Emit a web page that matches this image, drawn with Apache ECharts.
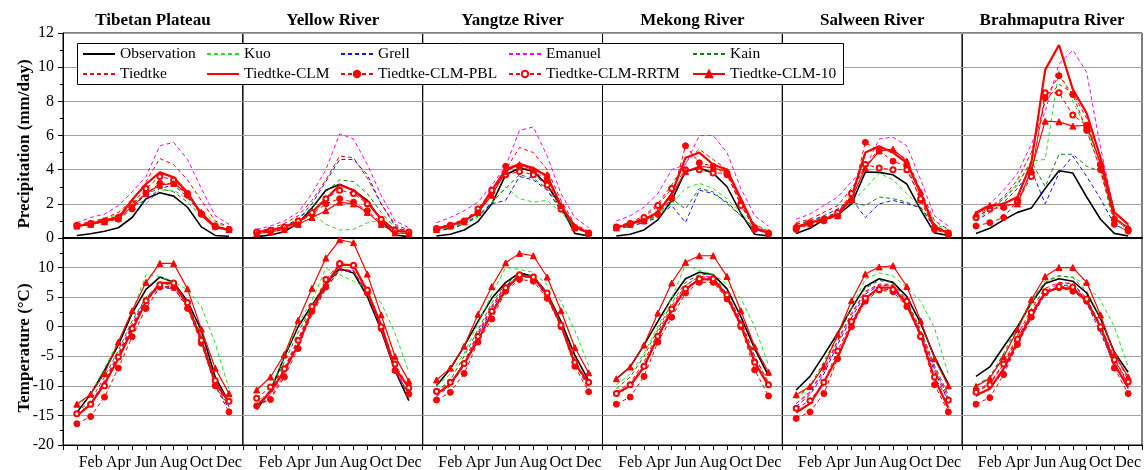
<!DOCTYPE html>
<html><head><meta charset="utf-8">
<script src="https://cdn.jsdelivr.net/npm/echarts/dist/echarts.min.js"></script>
<style>html,body{margin:0;padding:0;background:#fff}#c{width:1145px;height:470px}</style>
</head><body><div id="c"></div>
<script>
const regions = ['Tibetan Plateau','Yellow River','Yangtze River','Mekong River','Salween River','Brahmaputra River'];
const months = [1,2,3,4,5,6,7,8,9,10,11,12];
const monthTickLabels = {2:'Feb',4:'Apr',6:'Jun',8:'Aug',10:'Oct',12:'Dec'};
const seriesNames = ['Observation','Kuo','Grell','Emanuel','Kain','Tiedtke','Tiedtke-CLM','Tiedtke-CLM-PBL','Tiedtke-CLM-RRTM','Tiedtke-CLM-10'];

// Precipitation (mm/day), rows = regions in order above
const precipObs = [
 [0.15,0.25,0.4,0.6,1.2,2.3,2.65,2.45,1.8,0.65,0.15,0.1],
 [0.08,0.18,0.37,0.86,1.75,2.8,3.15,2.8,2.2,1.06,0.18,0.08],
 [0.12,0.22,0.47,0.96,2.0,3.7,4.1,3.9,3.1,1.85,0.27,0.12],
 [0.12,0.22,0.47,1.06,2.2,3.9,4.1,3.8,3.0,1.45,0.22,0.12],
 [0.27,0.57,1.06,1.35,2.0,3.86,3.84,3.7,3.16,1.65,0.3,0.15],
 [0.27,0.57,1.06,1.5,1.75,2.9,3.94,3.8,2.4,1.1,0.27,0.12]];
const precipKuo = [
 [0.75,0.9,1.1,1.4,2.2,2.0,2.8,2.8,2.3,1.6,0.9,0.6],
 [0.3,0.4,0.6,1.0,1.45,0.8,0.47,0.5,0.9,1.06,0.4,0.35],
 [0.4,0.6,0.8,1.2,2.0,3.0,2.3,2.1,2.2,1.5,0.6,0.3],
 [0.6,0.7,0.9,1.3,2.0,2.9,3.2,2.9,2.3,1.5,0.7,0.4],
 [0.7,0.9,1.2,1.5,2.1,2.9,3.8,3.4,2.6,1.8,0.8,0.5],
 [1.1,1.6,2.3,3.2,4.5,4.6,9.8,8.0,6.4,4.0,1.0,0.7]];
const precipGrell = [
 [0.7,0.8,1.0,1.3,1.9,2.2,2.9,3.1,2.4,1.4,0.7,0.5],
 [0.3,0.4,0.65,1.1,2.0,3.3,4.6,4.6,3.7,2.0,0.7,0.35],
 [0.4,0.55,0.8,1.3,2.0,2.2,3.6,3.4,2.8,1.6,0.6,0.3],
 [0.5,0.7,0.9,1.2,1.9,0.9,2.8,2.6,2.1,1.3,0.5,0.3],
 [0.8,1.0,1.3,1.7,2.3,1.2,2.0,2.2,2.0,1.8,0.6,0.3],
 [1.0,1.5,2.1,2.9,4.0,2.0,3.8,4.8,3.6,2.3,0.8,0.4]];
const precipEmanuel = [
 [0.9,1.2,1.4,1.9,2.7,3.6,5.4,5.6,4.6,2.9,1.3,0.8],
 [0.5,0.7,1.0,1.5,2.6,4.0,6.1,5.8,4.3,2.5,1.0,0.6],
 [0.9,1.2,1.6,2.1,3.1,4.2,6.3,6.5,4.8,2.6,1.2,0.6],
 [1.0,1.3,1.8,2.6,4.0,4.3,6.0,6.0,5.0,2.9,1.3,0.7],
 [1.1,1.4,1.9,2.4,3.3,4.1,5.8,5.9,5.4,3.4,1.3,0.7],
 [1.5,2.0,2.8,3.8,5.5,7.4,10.2,11.0,9.7,5.3,1.5,0.8]];
const precipKain = [
 [0.7,0.85,1.0,1.3,2.0,2.6,2.9,2.7,2.1,1.3,0.7,0.5],
 [0.35,0.45,0.7,1.1,1.8,2.7,3.4,3.3,2.6,1.5,0.6,0.35],
 [0.45,0.6,0.9,1.3,2.1,2.9,3.7,3.5,2.9,1.6,0.6,0.35],
 [0.6,0.8,1.0,1.3,2.3,1.7,2.9,2.7,2.0,1.3,0.6,0.35],
 [0.8,1.0,1.2,1.5,2.1,1.9,2.4,2.3,2.1,1.7,0.7,0.4],
 [1.2,1.7,2.3,3.1,4.5,3.0,4.9,4.9,4.2,3.9,1.1,0.5]];
const precipTiedtke = [
 [0.8,0.95,1.15,1.5,2.2,3.3,4.65,4.3,3.4,2.2,1.0,0.65],
 [0.4,0.55,0.85,1.3,2.2,3.4,4.8,4.7,3.5,2.0,0.8,0.45],
 [0.6,0.8,1.1,1.6,2.6,4.0,5.3,5.0,4.0,2.2,0.8,0.4],
 [0.7,0.9,1.3,2.0,3.1,4.4,5.2,4.6,4.0,2.0,0.8,0.4],
 [0.9,1.1,1.5,1.9,2.9,4.1,5.3,5.1,4.6,2.8,1.0,0.5],
 [1.3,1.8,2.4,3.4,5.0,8.0,9.0,8.5,7.0,4.2,1.2,0.6]];
const precipCLM = [
 [0.7,0.82,1.06,1.16,2.24,3.16,3.84,3.55,2.67,1.35,0.63,0.47],
 [0.35,0.45,0.65,0.95,1.5,2.3,3.1,2.8,2.1,1.1,0.45,0.35],
 [0.55,0.75,1.0,1.5,2.8,4.0,4.35,4.1,3.6,1.9,0.7,0.3],
 [0.6,0.85,1.1,1.5,2.6,4.7,5.0,4.3,4.0,2.3,0.6,0.3],
 [0.6,0.9,1.1,1.4,2.4,5.0,5.37,5.0,4.4,2.6,0.6,0.3],
 [1.5,1.9,2.0,2.4,4.4,9.84,11.3,8.7,7.3,4.7,1.5,0.8]];
const precipPBL = [
 [0.7,0.8,0.95,1.1,1.7,2.6,3.2,3.2,2.5,1.4,0.65,0.5],
 [0.3,0.4,0.6,0.9,1.4,2.0,2.3,2.1,1.6,0.9,0.4,0.3],
 [0.5,0.7,0.95,1.5,2.7,4.2,4.2,3.9,3.4,1.8,0.6,0.25],
 [0.6,0.8,1.0,1.4,2.3,5.4,4.4,4.2,3.7,2.0,0.5,0.25],
 [0.5,0.8,1.0,1.3,2.2,5.6,5.1,4.5,4.2,2.2,0.5,0.2],
 [0.7,0.9,1.2,2.2,3.8,8.2,9.5,8.4,6.3,4.0,0.8,0.4]];
const precipRRTM = [
 [0.75,0.85,1.0,1.2,2.0,2.9,3.6,3.4,2.6,1.4,0.7,0.5],
 [0.35,0.45,0.65,1.0,1.5,2.3,2.8,2.6,2.0,1.1,0.45,0.35],
 [0.55,0.75,1.0,1.7,2.8,3.7,3.9,3.7,3.1,1.7,0.6,0.3],
 [0.65,0.85,1.2,1.9,2.9,4.0,4.0,3.8,3.8,1.9,0.6,0.3],
 [0.6,0.9,1.1,1.5,2.6,4.3,4.1,4.0,4.0,2.3,0.6,0.3],
 [1.2,1.7,1.8,2.1,3.6,8.5,8.5,7.2,6.6,4.3,1.1,0.5]];
const precipCLM10 = [
 [0.7,0.8,0.95,1.15,1.85,2.6,3.1,3.2,2.6,1.5,0.7,0.5],
 [0.25,0.35,0.5,0.8,1.2,1.6,2.1,2.0,1.5,0.8,0.3,0.25],
 [0.5,0.7,0.95,1.5,2.5,3.9,4.3,4.0,3.7,1.9,0.6,0.3],
 [0.6,0.8,1.0,1.5,2.5,3.9,4.2,4.1,3.9,2.2,0.6,0.3],
 [0.7,0.9,1.1,1.3,2.3,4.1,5.1,5.2,4.5,2.7,0.7,0.3],
 [1.4,1.9,1.9,2.0,4.0,6.84,6.8,6.55,6.6,4.4,1.2,0.6]];

// Temperature (°C)
const tempObs = [
 [-14.5,-11.4,-7.4,-3.1,2.3,6.3,8.4,7.5,4.3,-0.6,-8.5,-12.8],
 [-14.0,-10.8,-5.1,0.0,3.7,7.1,9.8,9.1,5.1,-0.6,-7.4,-12.5],
 [-10.0,-7.1,-3.3,0.9,4.8,7.5,9.1,8.5,5.7,0.9,-4.8,-9.1],
 [-8.8,-6.8,-3.1,0.9,4.8,8.1,9.2,8.8,6.4,1.7,-3.7,-8.3],
 [-10.7,-8.4,-4.8,-1.1,3.1,6.8,8.1,7.5,5.1,0.6,-5.1,-9.7],
 [-8.4,-6.8,-3.4,0.0,4.0,7.3,8.1,7.7,5.7,1.4,-4.3,-7.7]];
const tempKuo = [
 [-13.5,-11.3,-7.0,-2.5,2.5,8.8,8.5,7.5,6.3,3.4,-2.8,-10.5],
 [-13.1,-10.5,-5.0,0.5,4.5,9.86,8.8,7.7,6.5,4.0,-1.1,-7.7],
 [-10.0,-8.0,-4.5,0.5,5.5,10.0,9.7,9.2,7.1,4.3,-0.6,-6.6],
 [-9.8,-8.0,-4.5,0.0,4.8,10.5,9.5,8.9,7.2,4.8,0.0,-6.5],
 [-12.2,-10.3,-6.4,-1.8,3.2,8.0,9.1,8.6,6.6,4.3,-0.2,-8.1],
 [-10.0,-8.5,-5.0,-0.5,4.0,7.8,8.6,8.4,7.0,4.5,0.0,-6.8]];
const tempGrell = [
 [-15.0,-13.3,-9.5,-5.0,0.0,4.5,6.5,6.5,3.4,-2.5,-10.0,-13.8],
 [-13.5,-11.5,-7.5,-2.5,2.5,6.5,9.5,9.5,5.5,-0.5,-7.5,-12.0],
 [-11.8,-10.0,-6.5,-1.5,3.0,6.8,8.5,8.3,5.0,0.0,-6.0,-10.5],
 [-11.5,-10.0,-7.0,-2.0,2.5,6.5,8.2,8.2,5.0,0.0,-6.0,-10.0],
 [-13.5,-11.5,-8.0,-3.0,1.5,5.5,7.0,7.0,3.8,-1.5,-7.5,-12.5],
 [-11.8,-10.5,-7.5,-3.0,1.5,5.5,7.0,7.0,4.0,-1.0,-6.5,-10.5]];
const tempEmanuel = [
 [-15.0,-13.0,-9.0,-4.5,0.5,5.0,6.8,6.8,3.8,-2.0,-9.5,-13.5],
 [-13.5,-11.5,-7.0,-2.0,3.0,7.0,9.8,9.5,5.5,0.0,-7.0,-11.5],
 [-11.5,-9.8,-6.0,-1.2,3.3,7.0,8.6,8.4,5.3,0.3,-5.8,-10.3],
 [-11.5,-9.8,-6.5,-1.5,3.0,7.0,8.5,8.5,5.3,0.5,-5.5,-10.0],
 [-13.0,-11.2,-7.5,-2.5,2.0,5.8,7.0,7.0,4.0,-1.0,-7.0,-12.0],
 [-11.0,-9.5,-6.5,-2.0,2.5,6.0,7.3,7.3,4.5,0.0,-5.5,-10.0]];
const tempKain = [
 [-14.5,-12.5,-8.5,-4.0,1.0,5.0,7.2,7.0,4.0,-1.5,-9.0,-13.0],
 [-13.5,-11.0,-6.0,-1.0,3.5,7.5,9.6,9.3,5.5,0.0,-7.0,-12.0],
 [-11.0,-9.0,-5.0,-0.5,4.0,7.3,8.8,8.6,5.5,0.5,-5.5,-10.0],
 [-10.5,-8.5,-5.0,-0.5,4.0,7.5,8.8,8.8,5.5,1.0,-5.0,-9.5],
 [-12.0,-10.0,-6.0,-1.5,3.0,6.5,7.8,7.5,4.5,-0.5,-6.5,-11.5],
 [-10.0,-8.5,-4.5,0.0,4.5,7.5,8.6,8.3,6.0,1.5,-4.5,-9.0]];
const tempTiedtke = [
 [-15.0,-13.2,-9.3,-4.8,0.2,4.8,6.8,6.8,3.8,-2.0,-9.8,-13.5],
 [-13.5,-12.0,-8.0,-3.0,2.0,6.5,9.5,9.5,5.5,-0.5,-7.5,-11.5],
 [-11.5,-9.7,-6.0,-1.0,3.5,7.0,8.6,8.4,5.5,0.5,-5.5,-10.3],
 [-11.0,-9.5,-6.0,-1.0,3.5,7.0,8.5,8.3,5.5,1.0,-5.0,-9.5],
 [-13.0,-11.0,-7.2,-2.3,2.3,6.0,7.2,7.2,4.2,-1.0,-7.0,-12.0],
 [-10.8,-9.5,-6.2,-1.5,3.0,6.5,7.5,7.3,4.8,0.3,-5.2,-9.8]];
const tempCLM = [
 [-15.1,-13.1,-9.7,-5.4,-0.6,4.3,7.4,7.4,3.7,-2.3,-9.4,-12.8],
 [-13.4,-11.0,-7.4,-3.1,2.8,7.1,10.5,10.4,6.0,0.3,-7.0,-10.3],
 [-11.4,-9.7,-6.3,-2.3,2.3,6.3,8.7,8.3,5.4,0.3,-6.3,-9.4],
 [-11.3,-10.0,-6.8,-1.7,2.8,6.3,8.0,8.0,5.1,0.3,-6.0,-10.0],
 [-14.5,-13.0,-9.4,-5.1,0.3,4.8,6.6,6.6,3.7,-1.4,-8.8,-13.7],
 [-11.6,-10.5,-7.1,-2.6,2.0,5.8,6.6,6.4,4.3,0.0,-6.3,-10.3]];
const tempPBL = [
 [-16.4,-15.2,-11.9,-7.0,-1.7,3.1,6.7,6.6,3.1,-2.8,-10.0,-14.4],
 [-13.4,-12.3,-8.5,-3.7,2.6,6.7,10.5,10.3,5.7,-0.3,-7.4,-11.4],
 [-12.4,-11.1,-7.9,-2.6,1.3,6.0,8.0,7.7,4.8,0.0,-6.7,-11.0],
 [-13.1,-11.9,-8.4,-2.6,1.6,5.7,7.5,7.5,4.7,0.0,-7.3,-11.7],
 [-15.5,-14.4,-11.3,-5.4,0.0,4.3,6.2,5.9,3.4,-1.7,-9.8,-14.4],
 [-13.1,-12.0,-8.1,-3.0,1.6,5.7,6.6,6.0,4.3,-0.3,-7.0,-11.3]];
const tempRRTM = [
 [-14.7,-13.1,-10.0,-5.1,-0.3,4.4,7.1,7.4,4.1,-2.3,-9.1,-12.6],
 [-12.1,-10.2,-7.1,-2.3,3.4,8.0,10.7,10.4,6.2,0.0,-6.3,-10.3],
 [-10.9,-9.4,-6.2,-1.6,2.6,6.6,8.8,8.4,5.7,0.3,-6.0,-9.4],
 [-11.3,-9.8,-6.7,-1.6,3.0,6.4,8.1,8.1,5.4,0.3,-6.0,-9.8],
 [-13.8,-12.5,-9.4,-4.1,0.9,4.8,6.3,6.3,4.3,-1.6,-8.5,-12.4],
 [-11.1,-9.8,-6.3,-2.1,2.4,5.9,6.8,6.7,4.7,0.0,-5.6,-9.3]];
const tempCLM10 = [
 [-13.1,-11.4,-7.9,-2.6,2.7,7.5,10.7,10.7,6.4,-0.4,-7.0,-11.3],
 [-10.7,-8.5,-4.7,1.1,6.5,11.6,14.7,14.2,8.9,2.0,-5.0,-9.2],
 [-9.0,-7.0,-3.3,2.1,6.8,10.8,12.4,12.0,8.4,2.7,-3.5,-7.8],
 [-8.8,-6.8,-3.1,2.3,7.4,10.9,12.0,12.0,8.5,2.7,-3.4,-7.7],
 [-11.5,-10.1,-6.7,-1.3,4.4,8.9,10.1,10.3,6.8,1.0,-5.4,-10.0],
 [-10.1,-8.7,-5.1,-0.5,4.6,8.5,10.0,10.0,7.5,2.0,-4.6,-8.5]];

const precipData = [precipObs,precipKuo,precipGrell,precipEmanuel,precipKain,precipTiedtke,precipCLM,precipPBL,precipRRTM,precipCLM10];
const tempData = [tempObs,tempKuo,tempGrell,tempEmanuel,tempKain,tempTiedtke,tempCLM,tempPBL,tempRRTM,tempCLM10];

// styles (kept separate from data)
const DASH = [4,3];
const styles = [
 {color:'#000000', type:'solid', width:1.6, symbol:'none', size:0},
 {color:'#22dd22', type:DASH, width:1, symbol:'none', size:0},
 {color:'#1010ff', type:DASH, width:1, symbol:'none', size:0},
 {color:'#ff00ff', type:DASH, width:1, symbol:'none', size:0},
 {color:'#108010', type:DASH, width:1, symbol:'none', size:0},
 {color:'#ff0000', type:DASH, width:1, symbol:'none', size:0},
 {color:'#ff0000', type:'solid', width:2.2, symbol:'none', size:0},
 {color:'#ff0000', type:DASH, width:1, symbol:'circle', size:6},
 {color:'#ff0000', type:DASH, width:1, symbol:'emptyCircle', size:5},
 {color:'#ff0000', type:'solid', width:1.2, symbol:'triangle', size:6}
];

const FONT = '"Liberation Serif","Times New Roman",serif';
const X0 = 63, XW = (1142 - 63) / 6;
const PT = 33, PH = 205, TT = 238, TH = 207;

const grid = [], xAxis = [], yAxis = [], series = [];
for (let row = 0; row < 2; row++) {
  for (let r = 0; r < 6; r++) {
    const isTemp = row === 1;
    grid.push({left: X0 + r*XW, width: XW, top: isTemp ? TT : PT, height: isTemp ? TH : PH,
      show: true, borderColor: '#000', borderWidth: 1, containLabel: false, outerBoundsMode: 'none'});
    const gi = grid.length - 1;
    xAxis.push({type:'value', gridIndex: gi, min:0, max:13, interval:1,
      axisLine:{show:true, onZero:false, lineStyle:{color:'#000', width: isTemp ? 1 : 2}},
      axisTick:{show:isTemp, inside:false, length:5, lineStyle:{color:'#000'}},
      axisLabel:{show:isTemp, color:'#000', fontFamily:FONT, fontSize:16, margin:10,
        formatter: v => monthTickLabels[v] || ''},
      splitLine:{show:false}});
    yAxis.push({type:'value', gridIndex: gi,
      min: isTemp ? -20 : 0, max: isTemp ? 15 : 12, interval: isTemp ? 5 : 2,
      axisLine:{show: r===0, onZero:false, lineStyle:{color:'#000'}},
      axisTick:{show: r===0, inside:false, length:5, lineStyle:{color:'#000'}},
      minorTick:{show: r===0, splitNumber:2, length:3, lineStyle:{color:'#000'}},
      axisLabel:{show: r===0, color:'#000', fontFamily:FONT, fontSize:16, margin:9,
        formatter: v => (isTemp && v === 15) ? '' : String(v)},
      splitLine:{show:true, lineStyle:{color:'#a0a0a0', width:1}}});
    const dataSet = isTemp ? tempData : precipData;
    for (let s = 0; s < seriesNames.length; s++) {
      const st = styles[s];
      series.push({
        type:'line', name: seriesNames[s], xAxisIndex: gi, yAxisIndex: gi,
        data: months.map((m, i) => [m, dataSet[s][r][i]]),
        symbol: st.symbol, symbolSize: st.size, showSymbol: st.symbol !== 'none',
        lineStyle:{color: st.color, type: st.type, width: st.width},
        itemStyle:{color: st.color, borderColor: st.color, borderWidth: 1},
        emphasis:{disabled:true}, silent:true, z: 2 + s*0.01, clip: false
      });
    }
  }
}

const graphic = [];
regions.forEach((name, r) => {
  graphic.push({type:'text', x: X0 + r*XW + XW/2, y: 21, z: 10,
    style:{text:name, fill:'#000', fontFamily:FONT, fontSize:17, fontWeight:'bold',
      textAlign:'center', textVerticalAlign:'middle', align:'center', verticalAlign:'middle'}});
});
graphic.push({type:'text', x: 25, y: 144, rotation: Math.PI/2, z: 10,
  style:{text:'Precipitation (mm/day)', fill:'#000', fontFamily:FONT, fontSize:17, fontWeight:'bold',
    textAlign:'center', textVerticalAlign:'middle', align:'center', verticalAlign:'middle'}});
graphic.push({type:'text', x: 25, y: 348, rotation: Math.PI/2, z: 10,
  style:{text:'Temperature (°C)', fill:'#000', fontFamily:FONT, fontSize:17, fontWeight:'bold',
    textAlign:'center', textVerticalAlign:'middle', align:'center', verticalAlign:'middle'}});
graphic.push({type:'rect', z: 3, shape:{x:77.5, y:43.5, width:766, height:41},
  style:{fill:'#fff', stroke:'#000', lineWidth:1}});

const legendCols = [
  {left:82, items:['Observation','Tiedtke']},
  {left:206, items:['Kuo','Tiedtke-CLM']},
  {left:340, items:['Grell','Tiedtke-CLM-PBL']},
  {left:508, items:['Emanuel','Tiedtke-CLM-RRTM']},
  {left:692, items:['Kain','Tiedtke-CLM-10']}
];
const legend = legendCols.map(c => ({
  orient:'vertical', left:c.left, top:46, padding:0, itemGap:4, itemWidth:32, itemHeight:8,
  selectedMode:false, z: 5,
  data: c.items.map(n => {
    const st = styles[seriesNames.indexOf(n)];
    return st.symbol === 'none'
      ? {name:n, itemStyle:{opacity:0, color:'rgba(0,0,0,0)', borderColor:'rgba(0,0,0,0)', borderWidth:0}}
      : {name:n};
  }),
  textStyle:{color:'#000', fontFamily:FONT, fontSize:15.5, lineHeight:16}
}));

const chart = echarts.init(document.getElementById('c'), null, {renderer:'canvas'});
chart.setOption({animation:false, backgroundColor:'#fff', grid, xAxis, yAxis, series, graphic, legend});
</script></body></html>
